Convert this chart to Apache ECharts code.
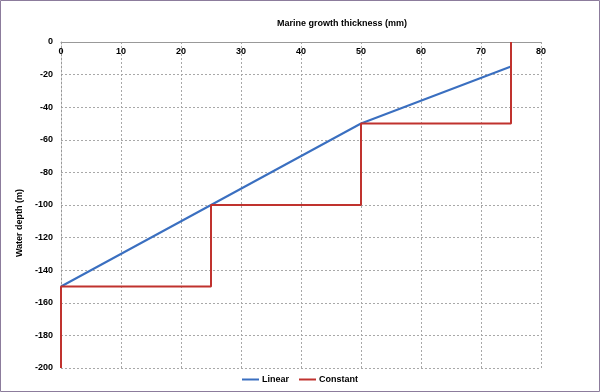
<!DOCTYPE html>
<html><head><meta charset="utf-8">
<script src="https://cdn.jsdelivr.net/npm/echarts@6/dist/echarts.min.js"></script>
<style>html,body{margin:0;padding:0;background:#fff}#c{width:600px;height:392px}</style>
</head><body><div id="c"></div>
<script>
const linearX = [0, 50, 75];
const linearY = [-150, -50, -15];
const constX = [0, 0, 25, 25, 50, 50, 75, 75];
const constY = [-200, -150, -150, -100, -100, -50, -50, 0];
const xTicks = [0, 10, 20, 30, 40, 50, 60, 70, 80];
const yTicks = [0, -20, -40, -60, -80, -100, -120, -140, -160, -180, -200];

const font = 'Liberation Sans, Arial, sans-serif';
const fs = 9;
const chart = echarts.init(document.getElementById('c'), null, {renderer: 'canvas'});
chart.setOption({
  animation: false,
  backgroundColor: '#fff',
  title: {
    text: 'Marine growth thickness (mm)', left: 337, top: 14, textAlign: 'center',
    textStyle: {fontFamily: font, fontSize: fs, fontWeight: 'bold', color: '#000'}
  },
  legend: {
    bottom: 3, left: 'center', itemWidth: 17, itemHeight: 2, itemGap: 10,
    icon: 'rect',
    textStyle: {fontFamily: font, fontSize: fs, fontWeight: 'bold', color: '#000', padding: [0, 0, 0, -2]},
    data: ['Linear', 'Constant']
  },
  grid: {left: 61, right: 59, top: 42, bottom: 24},
  xAxis: {
    type: 'value', position: 'top', min: xTicks[0], max: xTicks[xTicks.length - 1], interval: 10,
    axisLine: {show: true, lineStyle: {color: '#999', width: 1}},
    axisTick: {show: false},
    axisLabel: {inside: true, margin: 5, fontFamily: font, fontSize: fs, fontWeight: 'bold', color: '#000', verticalAlign: 'top'},
    splitLine: {show: true, lineStyle: {color: '#a8a8a8', type: [2, 2], width: 1}}
  },
  yAxis: {
    type: 'value', min: yTicks[yTicks.length - 1], max: yTicks[0], interval: 20,
    name: 'Water depth (m)', nameLocation: 'middle', nameGap: 37, nameRotate: 90,
    nameMoveOverlap: false,
    nameTextStyle: {fontFamily: font, fontSize: fs, fontWeight: 'bold', color: '#000', padding: [0, 36, 0, 0]},
    axisLine: {show: true, lineStyle: {color: '#999', width: 1, type: [2, 2]}},
    axisTick: {show: false},
    axisLabel: {margin: 8, fontFamily: font, fontSize: fs, fontWeight: 'bold', color: '#000'},
    splitLine: {show: true, lineStyle: {color: '#a8a8a8', type: [2, 2], width: 1}}
  },
  series: [
    {
      name: 'Linear', type: 'line', symbol: 'none', color: '#3a6fc0',
      lineStyle: {width: 2, color: '#3a6fc0'},
      data: linearX.map((x, i) => [x, linearY[i]])
    },
    {
      name: 'Constant', type: 'line', symbol: 'none', color: '#c0322e',
      lineStyle: {width: 2, color: '#c0322e'},
      data: constX.map((x, i) => [x, constY[i]])
    }
  ],
  graphic: [{
    type: 'rect', silent: true, z: 100,
    shape: {x: 0.5, y: 0.5, width: 599, height: 391},
    style: {fill: 'none', stroke: '#8c7c9c', lineWidth: 1}
  }]
});
</script></body></html>
